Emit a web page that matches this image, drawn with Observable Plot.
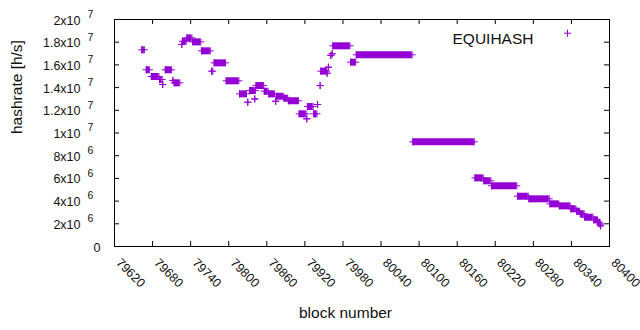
<!DOCTYPE html>
<html>
<head>
<meta charset="utf-8">
<script src="https://cdn.jsdelivr.net/npm/d3@7"></script>
<script src="https://cdn.jsdelivr.net/npm/@observablehq/plot@0.6"></script>
<style>
  body { margin: 0; background: white; }
  #chart svg { display: block; }
</style>
</head>
<body>
<div id="chart"></div>
<script>
// Runs of consecutive blocks that share the same hashrate
const runStart = [79663,79670,79678,79691,79696,79700,79712,79714,79726,79727,79734,79743,79757,79773,79777,79796,79817,79830,79833,79841,79843,79856,79863,79874,79875,79887,79894,79911,79923,79924,79934,79940,79944,79945,79955,79957,79961,79963,79964,79992,80001,80090,80188,80202,80214,80255,80273,80306,80321,80339,80348,80354,80361,80375,80382,80385,80386];
const runEnd   = [79667,79675,79690,79695,79696,79710,79712,79723,79726,79733,79742,79756,79771,79775,79795,79816,79828,79830,79842,79841,79855,79862,79872,79874,79886,79893,79910,79922,79923,79933,79939,79940,79944,79954,79955,79957,79961,79963,79991,80000,80089,80187,80201,80213,80254,80272,80305,80320,80338,80347,80353,80360,80374,80381,80384,80385,80386];
const hashrate = [17.33e6,15.57e6,14.98e6,14.71e6,14.27e6,15.57e6,14.63e6,14.42e6,17.8e6,18.09e6,18.38e6,18.03e6,17.24e6,15.45e6,16.18e6,14.6e6,13.45e6,12.71e6,13.74e6,13.0e6,14.18e6,13.68e6,13.45e6,12.8e6,13.24e6,13.07e6,12.84e6,11.69e6,11.25e6,12.33e6,11.69e6,12.51e6,14.18e6,15.45e6,15.27e6,15.8e6,16.83e6,16.98e6,17.68e6,16.24e6,16.89e6,9.22e6,6.05e6,5.79e6,5.35e6,4.43e6,4.2e6,3.76e6,3.58e6,3.32e6,3.11e6,2.88e6,2.58e6,2.35e6,2.14e6,1.98e6,1.82e6];

const xTicks = [79620,79680,79740,79800,79860,79920,79980,80040,80100,80160,80220,80280,80340,80400];
const yTicks = [0,2e6,4e6,6e6,8e6,1e7,1.2e7,1.4e7,1.6e7,1.8e7,2e7];
const yTickMantissa = ["0","2x10","4x10","6x10","8x10","1x10","1.2x10","1.4x10","1.6x10","1.8x10","2x10"];
const yTickExponent = ["","6","6","6","6","7","7","7","7","7","7"];
const seriesName = "EQUIHASH";

const color = "#9400d3";
const runs = runStart.map((s, i) => ({s, e: runEnd[i], v: hashrate[i]}));
const ends = runs.flatMap(r => [{x: r.s, y: r.v}, {x: r.e, y: r.v}]);
const yLab = yTicks.map((v, i) => ({v, m: yTickMantissa[i], e: yTickExponent[i]}));

const thinPlus = {
  draw(ctx, size) {
    const r = Math.sqrt(size / Math.PI);
    ctx.moveTo(-r, 0); ctx.lineTo(r, 0);
    ctx.moveTo(0, -r); ctx.lineTo(0, r);
  }
};

const font = "'Liberation Sans', Arial, sans-serif";
const tickFs = 12.5, labelFs = 15.5, txt = "#111";

const chart = Plot.plot({
  width: 640, height: 330,
  marginLeft: 114, marginRight: 31, marginTop: 19, marginBottom: 84,
  style: {background: "white", fontFamily: font, overflow: "visible"},
  x: {domain: [79620, 80400], axis: null},
  y: {domain: [0, 2e7], axis: null},
  marks: [
    // ticks (inward on all four sides)
    Plot.tickX(xTicks, {x: d => d, stroke: "black", insetTop: 222}),
    Plot.tickX(xTicks, {x: d => d, stroke: "black", insetBottom: 222}),
    Plot.tickY(yTicks, {y: d => d, stroke: "black", insetRight: 490}),
    Plot.tickY(yTicks, {y: d => d, stroke: "black", insetLeft: 490}),
    Plot.frame({stroke: "black", strokeWidth: 1}),
    // data
    Plot.ruleY(runs, {y: "v", x1: "s", x2: "e", stroke: color, strokeWidth: 7}),
    Plot.dot(ends, {x: "x", y: "y", symbol: thinPlus, r: 3.5, fill: "none", stroke: color, strokeWidth: 1}),
    // x tick labels
    Plot.text(xTicks, {x: d => d, frameAnchor: "bottom", text: d => String(d), rotate: 45, textAnchor: "start", dx: 1, dy: 17, fontSize: tickFs, fill: txt}),
    // y tick labels
    Plot.text(yLab.filter(d => d.e), {y: "v", frameAnchor: "left", text: "m", textAnchor: "end", dx: -34, dy: 1, fontSize: tickFs, fill: txt}),
    Plot.text(yLab.filter(d => d.e), {y: "v", frameAnchor: "left", text: "e", textAnchor: "start", dx: -27, dy: -5, fontSize: 10.5, fill: txt}),
    Plot.text(yLab.filter(d => !d.e), {y: "v", frameAnchor: "left", text: "m", textAnchor: "end", dx: -14, dy: 1, fontSize: tickFs, fill: txt}),
    // axis labels
    Plot.text(["block number"], {frameAnchor: "bottom", dx: -16.5, dy: 71, fontSize: labelFs, fill: txt}),
    Plot.text(["hashrate [h/s]"], {frameAnchor: "left", dx: -97, dy: 1, rotate: -90, fontSize: labelFs, fill: txt}),
    // legend
    Plot.text([seriesName], {frameAnchor: "top-right", dx: -76, dy: 13.7, textAnchor: "end", fontSize: labelFs, fill: txt}),
    Plot.dot([seriesName], {frameAnchor: "top-right", dx: -42, dy: 13.7, symbol: thinPlus, r: 3.5, fill: "none", stroke: color, strokeWidth: 1})
  ]
});
document.getElementById("chart").appendChild(chart);
</script>
</body>
</html>
